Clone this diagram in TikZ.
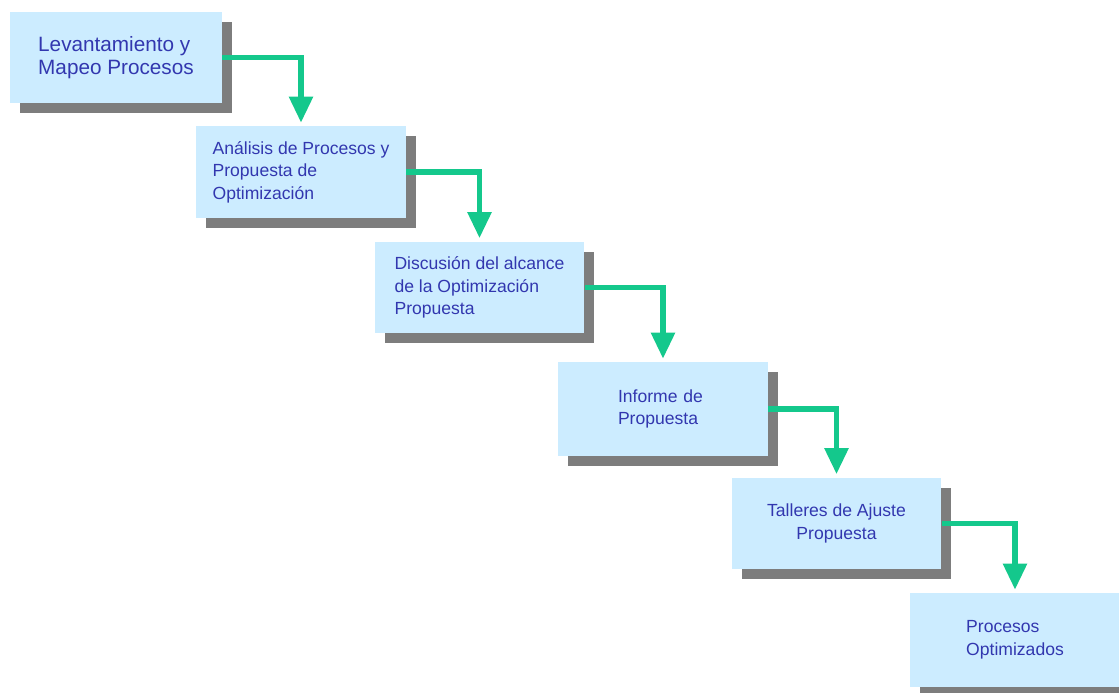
\documentclass[tikz,border=0pt]{standalone}
\usepackage{fontspec}
\setmainfont{Liberation Sans}
\usetikzlibrary{arrows.meta}
\usetikzlibrary{shadows}
\definecolor{boxblue}{RGB}{204,236,255}
\definecolor{shadowgray}{RGB}{125,125,125}
\definecolor{flowgreen}{RGB}{20,200,140}
\definecolor{textblue}{RGB}{50,55,175}

\begin{document}
\begin{tikzpicture}[x=0.02cm,y=-0.02cm,
  step box/.style={fill=boxblue,minimum width=4.2cm,minimum height=1.84cm,
    inner sep=0pt,align=left,text=textblue,
    font=\fontsize{10}{12.8}\selectfont,
    drop shadow={shadow xshift=0.2cm,shadow yshift=-0.2cm,fill=shadowgray,opacity=1}},
  flow/.style={draw=flowgreen,line width=0.11cm,shorten >=1.7pt,
    -{Triangle[width=0.46cm,length=0.52cm]}}]

\useasboundingbox (0,0) rectangle (1119,693);

  \node[step box,minimum width=4.24cm,font=\fontsize{11.8}{13.2}\selectfont]
    at (116,57.5) (lev) {Levantamiento y\\Mapeo Procesos};
  \node[step box] at (301,172) (ana) {Análisis de Procesos y\\Propuesta de\\Optimización};
  \node[step box] at (479.5,287.5) (dis) {Discusión del alcance\\de la Optimización\\Propuesta};
  \node[step box,minimum height=1.88cm,text width=1.8cm] at (663,409) (inf) {Informe de\\Propuesta};
  \node[step box,align=center] at (836.5,523.5) (tal) {Talleres de Ajuste\\Propuesta};
  \node[step box,minimum height=1.88cm] at (1015,640) (opt) {Procesos\\Optimizados};

  \draw[flow] (lev.east) -| (ana.north);
  \draw[flow] (ana.east) -| (dis.north);
  \draw[flow] (dis.east) -| (inf.north);
  \draw[flow] (inf.east) -| (tal.north);
  \draw[flow] (tal.east) -| (opt.north);

\end{tikzpicture}
\end{document}
